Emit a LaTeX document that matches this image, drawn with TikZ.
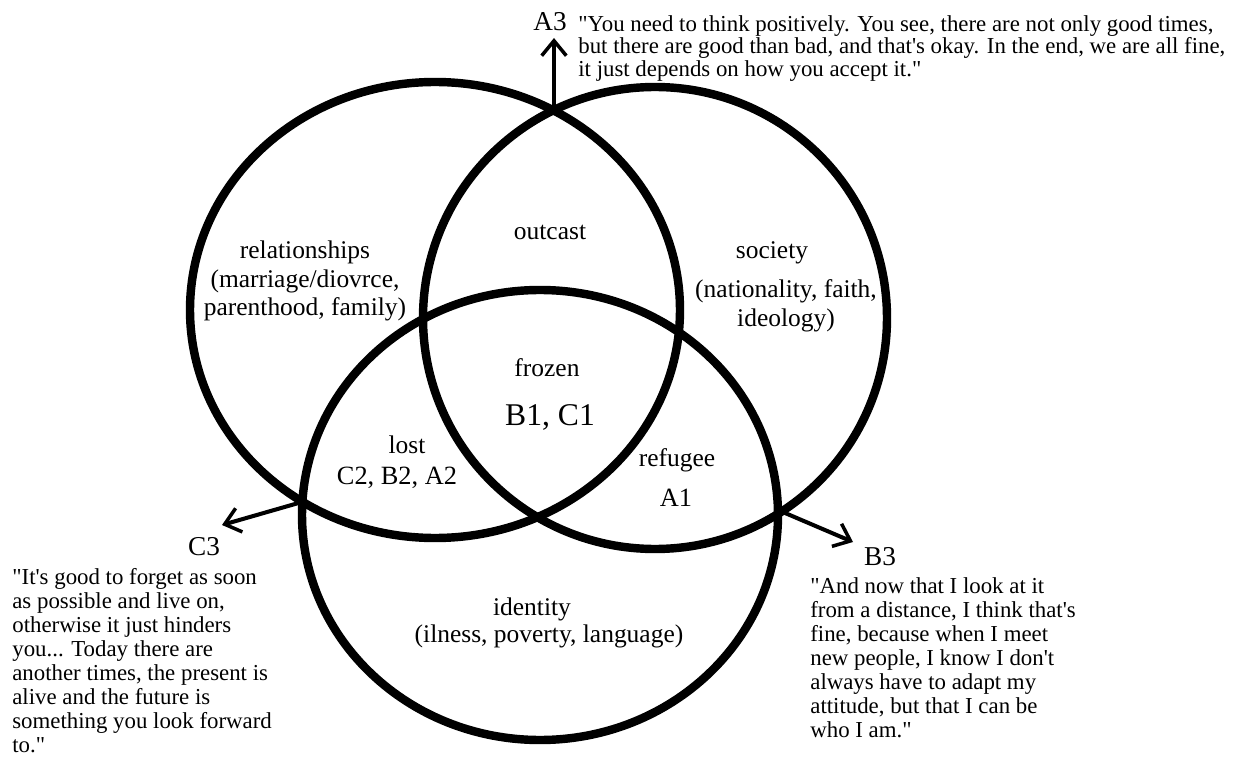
\documentclass[tikz,border=0pt]{standalone}
\usepackage{fontspec}
\setmainfont{Liberation Serif}[Ligatures=TeXOff]
\usetikzlibrary{positioning, arrows.meta}

\begin{document}
\begin{tikzpicture}[x=0.02cm, y=-0.02cm,
        ring/.style={draw=black, line width=4.8pt},
        lbl/.style={align=center, inner sep=0pt, font=\fontsize{14.5}{16.2}\selectfont},
        code/.style={align=center, inner sep=0pt, font=\fontsize{15}{17}\selectfont},
        tag/.style={inner sep=0pt, font=\fontsize{15.5}{17}\selectfont},
        quote/.style={align=left, anchor=north west, inner sep=0pt, font=\fontsize{13}{13.7}\selectfont},
        arr/.style={-{Straight Barb[length=8.5pt, width=14pt, line width=2pt]}, line width=2.3pt}]
        \useasboundingbox (0,0) rectangle (1238,760);
        \draw[ring] (435,310) ellipse [x radius=245, y radius=228];
        \draw[ring] (655,318) ellipse [x radius=232, y radius=231];
        \draw[ring] (540,515) ellipse [x radius=238, y radius=225];
        \coordinate (lrtop) at (554,111);
        \coordinate (lbleft) at (302,502);
        \coordinate (rbright) at (778,510);
        \coordinate (a3tip) at (554,38);
        \coordinate (c3tip) at (222,525);
        \coordinate (b3tip) at (853,542);
        \draw[arr] (lrtop) -- (a3tip);
        \draw[arr] (lbleft) -- (c3tip);
        \draw[arr] (rbright) -- (b3tip);
        \node[lbl] (rel) at (305,281) {relationships\\(marriage/diovrce,\\parenthood, family)};
        \node[lbl] (outcast) at (550,232) {outcast};
        \node[lbl] (soc) at (772,253) {society};
        \node[lbl] (socsub) at (786,306) {(nationality, faith,\\ideology)};
        \node[lbl] (frozen) at (547,368) {frozen};
        \node[code, font=\fontsize{18}{20}\selectfont] (frozenid) at (550,417) {B1, C1};
        \node[lbl] (lost) at (407,445) {lost};
        \node[code] (lostid) at (397,478) {C2, B2, A2};
        \node[lbl] (refugee) at (677,460) {refugee};
        \node[code] (refugeeid) at (676,498) {A1};
        \node[lbl] (ident) at (532,609) {identity};
        \node[lbl] (identsub) at (549,636) {(ilness, poverty, language)};
        \node[tag] (a3) at (550,22) {A3};
        \node[quote, font=\fontsize{13}{12.8}\selectfont] (a3q) at (578,15) {"You need to think positively. You see, there are not only good times,\\but there are good than bad, and that's okay. In the end, we are all fine,\\it just depends on how you accept it."};
        \node[tag] (c3) at (204,547) {C3};
        \node[quote] (c3q) at (12,568) {"It's good to forget as soon\\as possible and live on,\\otherwise it just hinders\\you... Today there are\\another times, the present is\\alive and the future is\\something you look forward\\to."};
        \node[tag] (b3) at (880,557) {B3};
        \node[quote] (b3q) at (810,577) {"And now that I look at it\\from a distance, I think that's\\fine, because when I meet\\new people, I know I don't\\always have to adapt my\\attitude, but that I can be\\who I am."};
      \end{tikzpicture}
\end{document}
